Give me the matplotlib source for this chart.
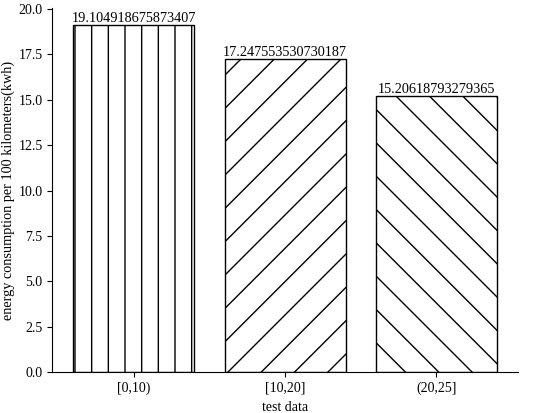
import matplotlib
matplotlib.use("Agg")
import matplotlib.pyplot as plt

plt.rcParams['font.family'] = ['Liberation Serif', 'DejaVu Serif']
plt.rcParams['font.size'] = 10

categories = ['[0,10)', '[10,20]', '(20,25]']
values = [19.104918675873407, 17.247553530730187, 15.20618793279365]
hatches = ['|', '/', '\\']

fig = plt.figure(figsize=(5.5, 4.13), dpi=100)
ax = fig.add_axes([0.095, 0.099, 0.847, 0.882])

bars = ax.bar(categories, values, width=0.8, color='white', edgecolor='black', linewidth=1.0)
for b, h in zip(bars, hatches):
    b.set_hatch(h)

for b, v in zip(bars, values):
    ax.text(b.get_x() + b.get_width() / 2, v, str(v), ha='center', va='bottom', fontsize=10.3)

ax.spines['top'].set_visible(False)
ax.spines['right'].set_visible(False)
ax.set_xlabel('test data')
ax.set_ylabel('energy consumption per 100 kilometers(kwh)', fontsize=10.3, labelpad=2)

fig.savefig('out.png', dpi=100)
